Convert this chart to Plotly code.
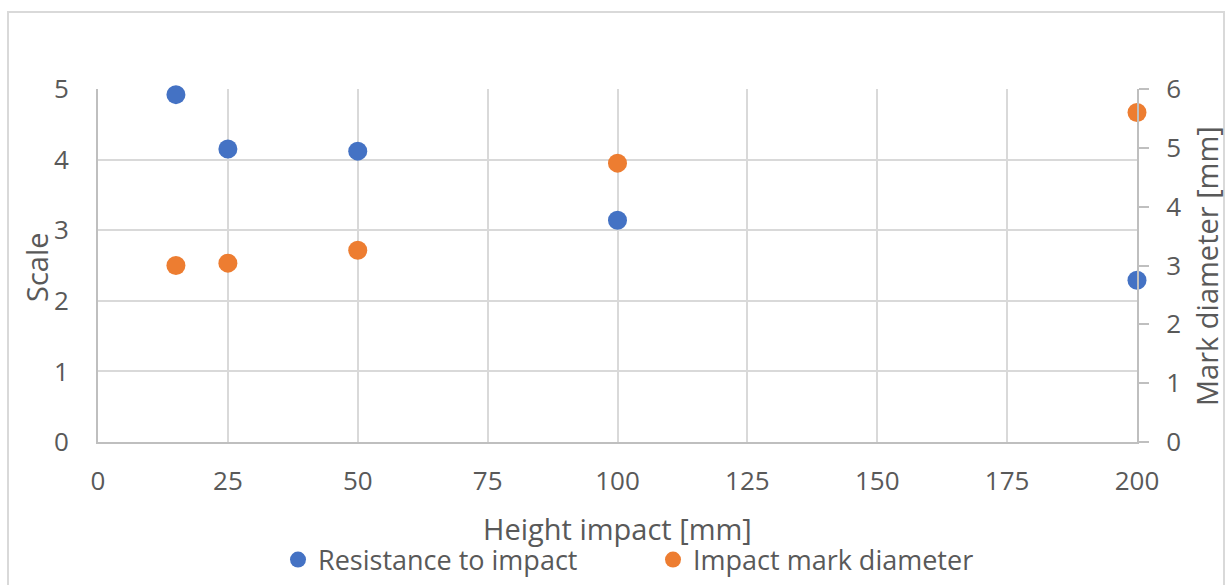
import plotly.graph_objects as go

heights = [15, 25, 50, 100, 200]
resistance = [4.92, 4.15, 4.12, 3.14, 2.29]
mark_diameter = [3.00, 3.04, 3.26, 4.74, 5.60]

x_ticks = [0, 25, 50, 75, 100, 125, 150, 175, 200]
left_ticks = [0, 1, 2, 3, 4, 5]
right_ticks = [0, 1, 2, 3, 4, 5, 6]

BLUE = "#4472C4"
ORANGE = "#ED7D31"
TXT = "#595959"
GRID = "#D9D9D9"
AXIS = "#BFBFBF"
FONT = "Open Sans"

W, H = 1227, 585
L, R, T, B = 98, 90, 89, 143
pw, ph = W - L - R, H - T - B

fig = go.Figure()
fig.add_trace(go.Scatter(x=heights, y=resistance, mode="markers", name="Resistance to impact",
                         marker=dict(color=BLUE, size=19), yaxis="y", cliponaxis=False))
fig.add_trace(go.Scatter(x=heights, y=mark_diameter, mode="markers", name="Impact mark diameter",
                         marker=dict(color=ORANGE, size=19), yaxis="y2", cliponaxis=False))

fig.update_layout(
    width=W, height=H,
    margin=dict(l=L, r=R, t=T, b=B, autoexpand=False),
    paper_bgcolor="white", plot_bgcolor="white",
    font=dict(family=FONT, color=TXT, size=26),
    xaxis=dict(range=[0, 200], tickvals=x_ticks, showgrid=True, gridcolor=GRID, gridwidth=2,
               showline=True, linecolor=AXIS, linewidth=2, zeroline=False,
               ticks="", ticklabelstandoff=15, tickfont=dict(size=26)),
    yaxis=dict(range=[0, 5], tickvals=left_ticks, showgrid=True, gridcolor=GRID, gridwidth=2,
               showline=True, linecolor=AXIS, linewidth=2, zeroline=False,
               ticks="", ticklabelstandoff=22, tickfont=dict(size=26)),
    yaxis2=dict(range=[0, 6], tickvals=right_ticks, overlaying="y", side="right", showgrid=False,
                showline=True, linecolor=AXIS, linewidth=2, zeroline=False,
                ticks="outside", ticklen=10, tickcolor=AXIS, tickwidth=2,
                ticklabelstandoff=12, tickfont=dict(size=26)),
    showlegend=True,
    legend=dict(orientation="h", x=(278 - L) / pw, xanchor="left", y=(T + ph - 560) / ph,
                yanchor="middle", font=dict(size=27, color=TXT), entrywidth=330,
                entrywidthmode="pixels", bgcolor="rgba(0,0,0,0)", itemsizing="trace"),
)

# Axis titles
fig.add_annotation(text="Height impact [mm]", xref="paper", yref="paper", x=(617 - L) / pw,
                   y=(T + ph - 528) / ph, showarrow=False, font=dict(size=29, color=TXT),
                   xanchor="center", yanchor="middle")
fig.add_annotation(text="Scale", xref="paper", yref="paper", x=(36 - L) / pw,
                   y=(T + ph - 267) / ph, showarrow=False, textangle=-90,
                   font=dict(size=29, color=TXT), xanchor="center", yanchor="middle")
fig.add_annotation(text="Mark diameter [mm]", xref="paper", yref="paper", x=(1206 - L) / pw,
                   y=(T + ph - 266) / ph, showarrow=False, textangle=-90,
                   font=dict(size=29, color=TXT), xanchor="center", yanchor="middle")

# Outer chart border
fig.add_shape(type="rect", xref="paper", yref="paper",
              x0=(8 - L) / pw, x1=(1224 - L) / pw, y0=(T + ph - 600) / ph, y1=(T + ph - 12) / ph,
              line=dict(color="#D9D9D9", width=2), fillcolor="rgba(0,0,0,0)", layer="below")

fig.write_html("out.html")
